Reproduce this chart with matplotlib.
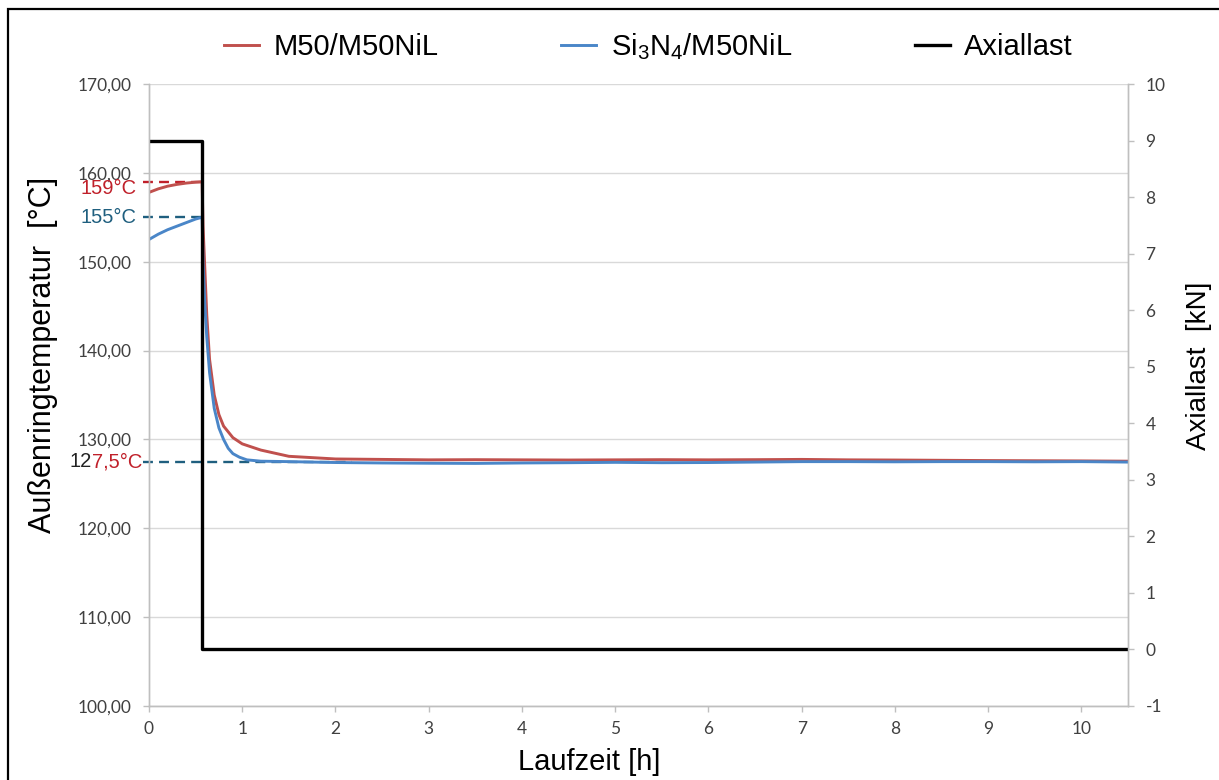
import matplotlib.pyplot as plt
from matplotlib.patches import Rectangle

plt.rcParams['font.family'] = ['Liberation Sans', 'DejaVu Sans']
plt.rcParams['mathtext.fontset'] = 'custom'
plt.rcParams['mathtext.rm'] = 'Liberation Sans'
plt.rcParams['axes.unicode_minus'] = False

# Laufzeit [h] und Außenringtemperatur [°C]
t_m50 = [0.0, 0.1, 0.2, 0.3, 0.4, 0.5, 0.57, 0.58, 0.60, 0.62, 0.65, 0.70, 0.75,
         0.80, 0.90, 1.0, 1.2, 1.5, 2.0, 2.5, 3.0, 3.5, 4.0, 4.5, 5.0, 5.5, 6.0,
         6.5, 7.0, 7.5, 8.0, 8.5, 9.0, 9.5, 10.0, 10.5]
temp_m50 = [157.8, 158.2, 158.5, 158.7, 158.85, 158.95, 159.0, 154.0, 149.0, 144.0,
            139.0, 135.0, 132.8, 131.5, 130.2, 129.5, 128.8, 128.1, 127.8, 127.75,
            127.7, 127.72, 127.7, 127.68, 127.7, 127.72, 127.7, 127.72, 127.75,
            127.7, 127.68, 127.65, 127.62, 127.6, 127.58, 127.55]

t_si3n4 = [0.0, 0.1, 0.2, 0.3, 0.4, 0.5, 0.57, 0.58, 0.60, 0.62, 0.65, 0.70, 0.75,
           0.80, 0.85, 0.90, 0.97, 1.05, 1.2, 1.5, 2.0, 2.5, 3.0, 3.5, 4.0, 4.5,
           5.0, 5.5, 6.0, 6.5, 7.0, 7.5, 8.0, 8.5, 9.0, 9.5, 10.0, 10.5]
temp_si3n4 = [152.5, 153.1, 153.6, 154.0, 154.4, 154.8, 155.0, 150.0, 145.0, 141.5,
              137.5, 133.5, 131.3, 130.0, 129.0, 128.4, 128.0, 127.7, 127.55, 127.5,
              127.4, 127.35, 127.32, 127.3, 127.35, 127.38, 127.42, 127.38, 127.4,
              127.45, 127.5, 127.5, 127.48, 127.5, 127.5, 127.48, 127.5, 127.45]

# Axiallast [kN]
t_last = [0.0, 0.567, 0.567, 10.5]
last = [9.0, 9.0, 0.0, 0.0]

# markierte Temperaturen: Wert, Ende der Hilfslinie [h]
ref_levels = [159.0, 155.0, 127.5]
ref_ends = [0.57, 0.57, 2.18]

temp_ticks = [100, 110, 120, 130, 140, 150, 160, 170]
temp_labels = ['100,00', '110,00', '120,00', '130,00', '140,00', '150,00', '160,00', '170,00']
last_ticks = [-1, 0, 1, 2, 3, 4, 5, 6, 7, 8, 9, 10]
time_ticks = [0, 1, 2, 3, 4, 5, 6, 7, 8, 9, 10]

red = '#c0504d'
blue = '#4a86c8'
teal = '#1f5f7f'
lab_red = '#c0202a'
grid_col = '#d9d9d9'
spine_col = '#bfbfbf'
tick_col = '#404040'

fig = plt.figure(figsize=(12.19, 7.80), dpi=100)
ax = fig.add_axes([0.1222, 0.0949, 0.8032, 0.7974])
ax2 = ax.twinx()

ax.plot(t_m50, temp_m50, color=red, lw=2.1, label='M50/M50NiL', zorder=3)
ax.plot(t_si3n4, temp_si3n4, color=blue, lw=2.1, label=r'Si$_\mathrm{3}$N$_\mathrm{4}$/M50NiL', zorder=3)
ax2.plot(t_last, last, color='black', lw=2.4, label='Axiallast')

# Hilfslinien zu den markierten Temperaturen
ref_cols = [lab_red, teal, teal]
for lvl, end, c in zip(ref_levels, ref_ends, ref_cols):
    ax.plot([-0.065, end], [lvl, lvl], color=c, lw=1.7, ls=(0, (4.2, 2.6)),
            clip_on=False, zorder=2)

lab_kw = dict(textcoords='offset points', ha='right', va='center', fontsize=14.5,
              fontfamily='Liberation Sans', annotation_clip=False)
ax.annotate('159°C', xy=(0, ref_levels[0]), xytext=(-9, -5), color=lab_red, **lab_kw)
ax.annotate('155°C', xy=(0, ref_levels[1]), xytext=(-9, 0), color=teal, **lab_kw)
ax.annotate('7,5°C', xy=(0, ref_levels[2]), xytext=(-5, 0), color=lab_red, **lab_kw)
ax.annotate('12', xy=(0, ref_levels[2]), xytext=(-41.4, 0), color='#222222', **lab_kw)

ax.set_xlim(0, 10.5)
ax.set_ylim(100, 170)
ax2.set_ylim(-1, 10)

ax.set_xticks(time_ticks)
ax.set_yticks(temp_ticks)
ax.set_yticklabels(temp_labels)
ax2.set_yticks(last_ticks)

ax.grid(axis='y', color=grid_col, lw=1.0)
ax.set_axisbelow(True)

for a in (ax, ax2):
    for s in a.spines.values():
        s.set_color(spine_col)
        s.set_linewidth(1.0)
    a.spines['top'].set_visible(False)
    a.tick_params(colors=spine_col, labelcolor=tick_col, length=4.5, width=1.0,
                  labelsize=12.5)
    for lbl in a.get_xticklabels() + a.get_yticklabels():
        lbl.set_family(['Lato', 'DejaVu Sans'])

ax.tick_params(axis='y', pad=8)
ax.tick_params(axis='x', pad=6)
ax2.tick_params(axis='y', pad=8)

ax.set_xlabel('Laufzeit [h]', fontsize=21)
ax.xaxis.set_label_coords(0.45, -0.068)
ax.set_ylabel('Außenringtemperatur  [°C]', fontsize=22)
ax.yaxis.set_label_coords(-0.093, 0.564)
ax2.set_ylabel('Axiallast  [kN]', fontsize=20)
ax2.yaxis.set_label_coords(1.059, 0.547)

h1, l1 = ax.get_legend_handles_labels()
h2, l2 = ax2.get_legend_handles_labels()
fig.legend(h1 + h2, l1 + l2, loc='center', bbox_to_anchor=(0.532, 0.94), ncol=3,
           frameon=False, fontsize=21, handlelength=1.2, handletextpad=0.5,
           columnspacing=4.2)

# Rahmen um die Abbildung
fig.patches.append(Rectangle((8 / 1219, -0.1), 1.2, 1.1 - 9 / 780, transform=fig.transFigure,
                             fill=False, edgecolor='black', lw=1.6, clip_on=False))

fig.savefig('out.png', dpi=100)
